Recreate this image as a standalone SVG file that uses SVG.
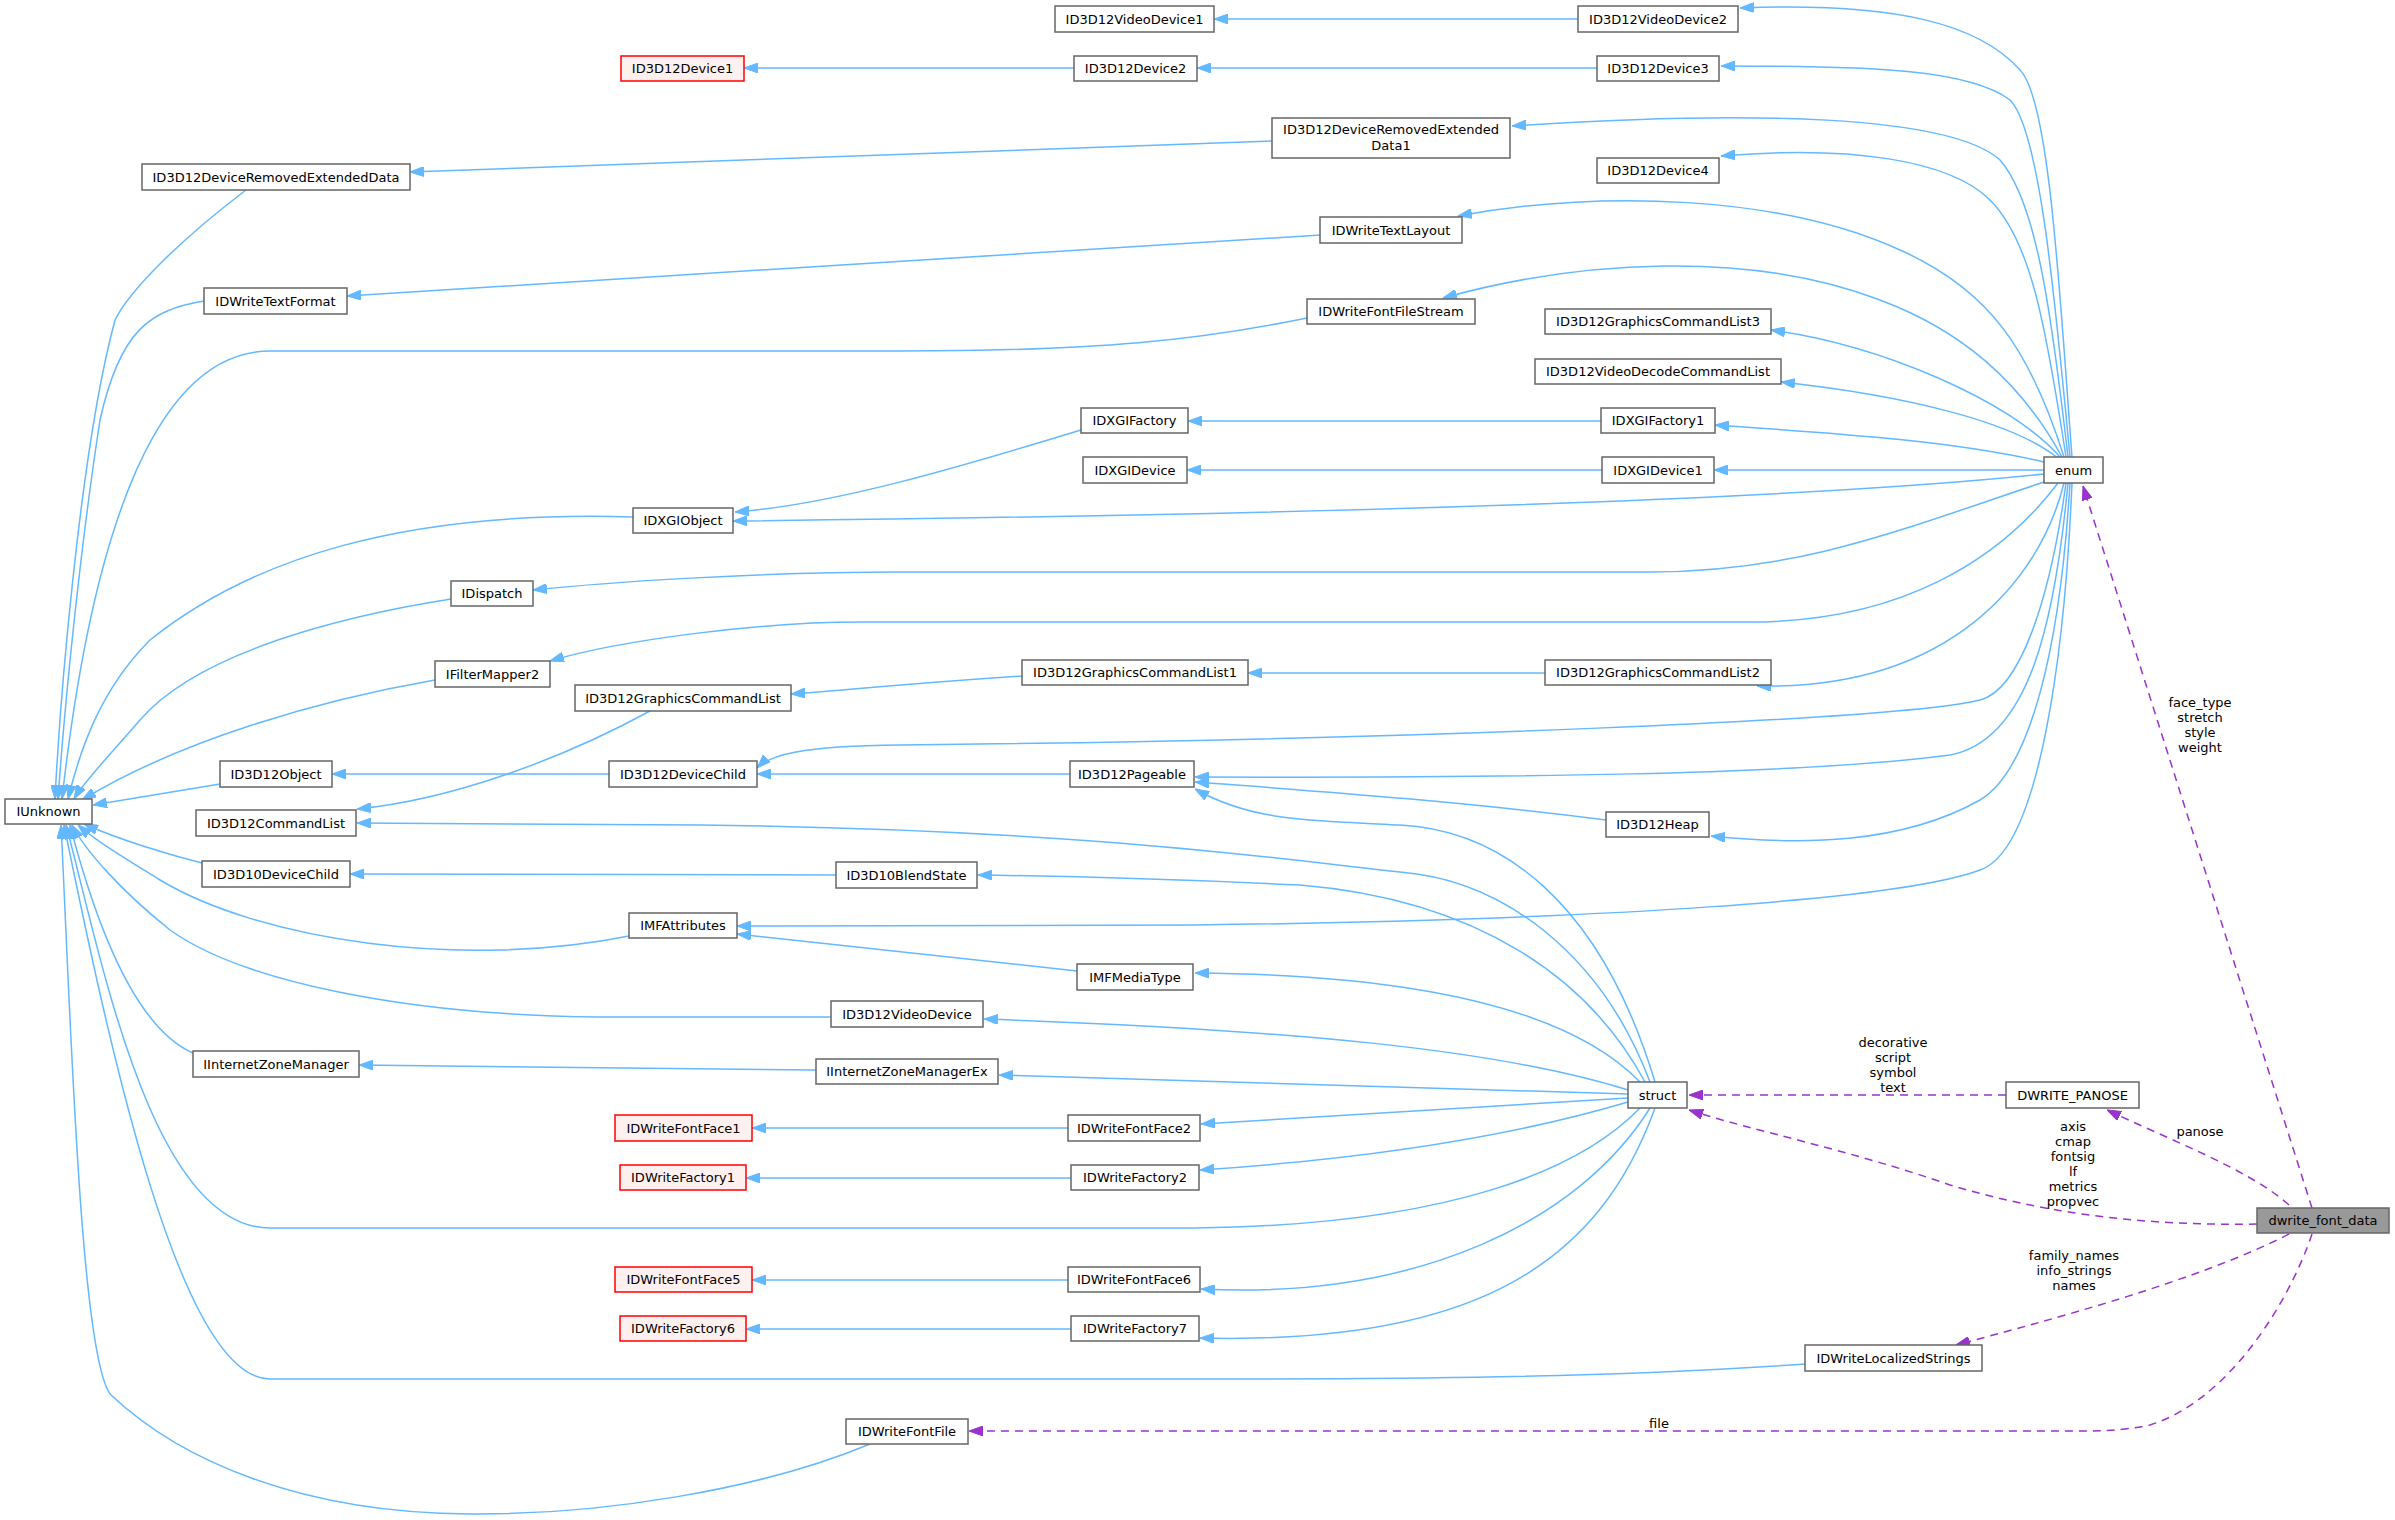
<svg xmlns="http://www.w3.org/2000/svg" width="2395" height="1520" viewBox="0 0 2395 1520">
<style>
.n rect{fill:#fff;stroke:#666;stroke-width:1.5}
.r rect{fill:#fff0f0;stroke:#ff0000;stroke-width:1.5}
.g rect{fill:#999;stroke:#666;stroke-width:1.5}
text{font-family:"DejaVu Sans",sans-serif;font-size:13px;fill:#000;text-anchor:middle}
.e path{fill:none;stroke:#63b8ff;stroke-width:1.5;marker-end:url(#ab)}
.p path{fill:none;stroke:#9a32cd;stroke-width:1.5;stroke-dasharray:8,6;marker-end:url(#ap)}
</style>
<defs>
<marker id="ab" viewBox="0 0 14 10" refX="14" refY="5" markerWidth="14" markerHeight="10" markerUnits="userSpaceOnUse" orient="auto"><path d="M0,0 L14,5 L0,10 Z" fill="#63b8ff" stroke="#63b8ff"/></marker>
<marker id="ap" viewBox="0 0 14 10" refX="14" refY="5" markerWidth="14" markerHeight="10" markerUnits="userSpaceOnUse" orient="auto"><path d="M0,0 L14,5 L0,10 Z" fill="#9a32cd" stroke="#9a32cd"/></marker>
</defs>
<rect width="2395" height="1520" fill="#fff"/>
<g id="connectors">
<g class="e">
<path d="M1578,19 L1214,19"/>
<path d="M1074,68 L744,68"/>
<path d="M1597,68 L1197,68"/>
<path d="M1272,141 L410,172"/>
<path d="M1320,235 L347,296"/>
<path d="M1601,421 L1188,421"/>
<path d="M1602,470 L1187,470"/>
<path d="M1081,430 C950,470 830,505 735,512"/>
<path d="M1022,676 C900,684 850,690 791,694"/>
<path d="M1545,673 L1248,673"/>
<path d="M650,711 C560,760 450,800 357,809"/>
<path d="M609,774 L332,774"/>
<path d="M1070,774 L757,774"/>
<path d="M1606,820 C1450,800 1300,790 1195,782"/>
<path d="M836,875 L350,874"/>
<path d="M1077,971 L737,934"/>
<path d="M816,1070 L359,1065"/>
<path d="M1068,1128 L752,1128"/>
<path d="M1071,1178 L746,1178"/>
<path d="M1068,1280 L752,1280"/>
<path d="M1071,1329 L746,1329"/>
<path d="M2072,457 C2060,300 2050,100 2020,70 C1980,25 1900,2 1740,8"/>
<path d="M2070,457 C2055,300 2040,130 2010,100 C1970,70 1880,66 1721,66"/>
<path d="M2068,457 C2050,300 2035,200 2000,160 C1950,115 1750,110 1512,126"/>
<path d="M2066,457 C2045,320 2030,240 1990,200 C1950,160 1850,145 1721,156"/>
<path d="M2064,457 C2030,350 1990,290 1900,250 C1780,195 1600,190 1458,216"/>
<path d="M2062,457 C2020,380 1960,330 1880,300 C1750,250 1580,260 1443,298"/>
<path d="M2060,457 C2010,400 1880,345 1771,330"/>
<path d="M2058,458 C2010,420 1900,395 1781,382"/>
<path d="M2044,462 C1950,440 1830,433 1715,425"/>
<path d="M2044,470 L1714,470"/>
<path d="M2044,474 C1800,500 1300,515 733,521"/>
<path d="M2044,482 C1900,530 1800,572 1650,572 L900,572 C750,572 600,583 533,590"/>
<path d="M2058,483 C2000,560 1900,622 1750,622 L860,622 C760,622 620,640 550,661"/>
<path d="M2064,483 C2040,580 1950,690 1757,686"/>
<path d="M2066,483 C2050,600 2020,690 1980,700 C1900,720 1400,740 900,745 C800,746 770,755 757,768"/>
<path d="M2068,483 C2055,620 2030,740 1950,755 C1800,775 1500,778 1195,777"/>
<path d="M2070,483 C2060,650 2030,770 1980,800 C1900,845 1800,845 1711,836"/>
<path d="M2072,483 C2065,650 2040,850 1980,870 C1900,900 1600,920 1195,925 L737,926"/>
<path d="M1655,1082 C1600,900 1500,830 1400,825 C1300,820 1250,820 1195,789"/>
<path d="M1650,1082 C1600,950 1500,880 1400,872 C1300,862 1100,830 700,825 L357,823"/>
<path d="M1645,1082 C1590,980 1480,900 1300,885 C1150,878 1050,876 978,875"/>
<path d="M1640,1082 C1580,1020 1450,975 1195,973"/>
<path d="M1628,1090 C1500,1050 1300,1030 984,1019"/>
<path d="M1628,1094 L999,1075"/>
<path d="M1628,1098 L1201,1124"/>
<path d="M1628,1102 C1500,1140 1350,1160 1200,1170"/>
<path d="M1640,1108 C1580,1170 1450,1225 1195,1228 L270,1228 C150,1228 100,950 66,825"/>
<path d="M1650,1108 C1580,1220 1420,1300 1201,1289"/>
<path d="M1655,1108 C1600,1260 1480,1345 1200,1338"/>
<path d="M246,190 C180,240 130,290 115,320 C80,450 60,700 55,799"/>
<path d="M204,301 C150,310 120,330 100,420 C80,550 65,700 58,799"/>
<path d="M1307,318 C1200,340 1100,351 900,351 L270,351 C150,351 90,550 62,799"/>
<path d="M633,517 C400,510 250,560 150,640 C100,690 80,750 68,799"/>
<path d="M451,599 C350,615 200,650 140,720 C110,755 85,780 74,799"/>
<path d="M435,680 C320,700 180,740 82,800"/>
<path d="M220,784 L93,805"/>
<path d="M202,863 C170,855 120,840 84,824"/>
<path d="M629,936 C460,970 260,940 160,880 C120,855 95,840 78,825"/>
<path d="M831,1017 L600,1017 C400,1015 240,980 170,930 C120,890 85,850 72,825"/>
<path d="M193,1053 C140,1030 100,940 70,825"/>
<path d="M1805,1364 C1600,1378 1400,1379 1195,1379 L270,1379 C180,1379 110,1050 64,825"/>
<path d="M870,1444 C760,1490 600,1515 470,1514 C300,1513 180,1460 111,1395 C80,1360 70,1000 61,825"/>
</g>
<g class="p">
<path d="M2312,1208 L2083,486"/>
<path d="M2289,1205 C2250,1170 2170,1140 2107,1110"/>
<path d="M2257,1224 C2150,1226 2050,1215 1950,1185 C1850,1150 1750,1130 1689,1110"/>
<path d="M2006,1095 L1689,1095"/>
<path d="M2289,1234 C2200,1280 2050,1320 1956,1345"/>
<path d="M2312,1234 C2290,1300 2230,1400 2150,1425 C2120,1431 2100,1431 2080,1431 L969,1431"/>
</g>
<g id="labels">
<text x="2200" y="707">face_type</text><text x="2200" y="722">stretch</text><text x="2200" y="737">style</text><text x="2200" y="752">weight</text>
<text x="1893" y="1047">decorative</text><text x="1893" y="1062">script</text><text x="1893" y="1077">symbol</text><text x="1893" y="1092">text</text>
<text x="2073" y="1131">axis</text><text x="2073" y="1146">cmap</text><text x="2073" y="1161">fontsig</text><text x="2073" y="1176">lf</text><text x="2073" y="1191">metrics</text><text x="2073" y="1206">propvec</text>
<text x="2200" y="1136">panose</text>
<text x="2074" y="1260">family_names</text><text x="2074" y="1275">info_strings</text><text x="2074" y="1290">names</text>
<text x="1659" y="1428">file</text>
</g>
</g>
<g id="ID3D12VideoDevice1" class="n"><rect x="1055" y="6" width="159" height="26"/><text x="1134.5" y="24">ID3D12VideoDevice1</text></g>
<g id="ID3D12VideoDevice2" class="n"><rect x="1578" y="6" width="160" height="26"/><text x="1658" y="24">ID3D12VideoDevice2</text></g>
<g id="ID3D12Device1" class="r"><rect x="621" y="56" width="123" height="25"/><text x="682.5" y="73">ID3D12Device1</text></g>
<g id="ID3D12Device2" class="n"><rect x="1074" y="56" width="123" height="25"/><text x="1135.5" y="73">ID3D12Device2</text></g>
<g id="ID3D12Device3" class="n"><rect x="1597" y="56" width="122" height="25"/><text x="1658" y="73">ID3D12Device3</text></g>
<g id="ID3D12DeviceRemovedExtendedData" class="n"><rect x="142" y="164" width="268" height="26"/><text x="276" y="182">ID3D12DeviceRemovedExtendedData</text></g>
<g id="ID3D12DeviceRemovedExtendedData1" class="n"><rect x="1272" y="118" width="238" height="40"/><text x="1391" y="134">ID3D12DeviceRemovedExtended</text><text x="1391" y="150">Data1</text></g>
<g id="ID3D12Device4" class="n"><rect x="1597" y="158" width="122" height="25"/><text x="1658" y="175">ID3D12Device4</text></g>
<g id="IDWriteTextLayout" class="n"><rect x="1320" y="217" width="142" height="26"/><text x="1391" y="235">IDWriteTextLayout</text></g>
<g id="IDWriteTextFormat" class="n"><rect x="204" y="288" width="143" height="26"/><text x="275.5" y="306">IDWriteTextFormat</text></g>
<g id="IDWriteFontFileStream" class="n"><rect x="1307" y="299" width="168" height="25"/><text x="1391" y="316">IDWriteFontFileStream</text></g>
<g id="ID3D12GraphicsCommandList3" class="n"><rect x="1545" y="309" width="226" height="25"/><text x="1658" y="326">ID3D12GraphicsCommandList3</text></g>
<g id="ID3D12VideoDecodeCommandList" class="n"><rect x="1535" y="359" width="246" height="25"/><text x="1658" y="376">ID3D12VideoDecodeCommandList</text></g>
<g id="IDXGIFactory" class="n"><rect x="1081" y="408" width="107" height="25"/><text x="1134.5" y="425">IDXGIFactory</text></g>
<g id="IDXGIFactory1" class="n"><rect x="1601" y="408" width="114" height="25"/><text x="1658" y="425">IDXGIFactory1</text></g>
<g id="IDXGIDevice" class="n"><rect x="1083" y="457" width="104" height="26"/><text x="1135" y="475">IDXGIDevice</text></g>
<g id="IDXGIDevice1" class="n"><rect x="1602" y="457" width="112" height="26"/><text x="1658" y="475">IDXGIDevice1</text></g>
<g id="enum" class="n"><rect x="2044" y="457" width="59" height="26"/><text x="2073.5" y="475">enum</text></g>
<g id="IDXGIObject" class="n"><rect x="633" y="508" width="100" height="25"/><text x="683" y="525">IDXGIObject</text></g>
<g id="IDispatch" class="n"><rect x="451" y="581" width="82" height="25"/><text x="492" y="598">IDispatch</text></g>
<g id="IFilterMapper2" class="n"><rect x="435" y="661" width="115" height="26"/><text x="492.5" y="679">IFilterMapper2</text></g>
<g id="ID3D12GraphicsCommandList" class="n"><rect x="575" y="685" width="216" height="26"/><text x="683" y="703">ID3D12GraphicsCommandList</text></g>
<g id="ID3D12GraphicsCommandList1" class="n"><rect x="1022" y="660" width="226" height="25"/><text x="1135" y="677">ID3D12GraphicsCommandList1</text></g>
<g id="ID3D12GraphicsCommandList2" class="n"><rect x="1545" y="660" width="226" height="25"/><text x="1658" y="677">ID3D12GraphicsCommandList2</text></g>
<g id="ID3D12Object" class="n"><rect x="220" y="761" width="112" height="26"/><text x="276" y="779">ID3D12Object</text></g>
<g id="ID3D12DeviceChild" class="n"><rect x="609" y="761" width="148" height="26"/><text x="683" y="779">ID3D12DeviceChild</text></g>
<g id="ID3D12Pageable" class="n"><rect x="1070" y="761" width="124" height="26"/><text x="1132" y="779">ID3D12Pageable</text></g>
<g id="IUnknown" class="n"><rect x="5" y="799" width="87" height="25"/><text x="48.5" y="816">IUnknown</text></g>
<g id="ID3D12CommandList" class="n"><rect x="196" y="810" width="160" height="26"/><text x="276" y="828">ID3D12CommandList</text></g>
<g id="ID3D12Heap" class="n"><rect x="1606" y="812" width="103" height="25"/><text x="1657.5" y="829">ID3D12Heap</text></g>
<g id="ID3D10DeviceChild" class="n"><rect x="202" y="861" width="148" height="26"/><text x="276" y="879">ID3D10DeviceChild</text></g>
<g id="ID3D10BlendState" class="n"><rect x="836" y="862" width="141" height="26"/><text x="906.5" y="880">ID3D10BlendState</text></g>
<g id="IMFAttributes" class="n"><rect x="629" y="913" width="108" height="25"/><text x="683" y="930">IMFAttributes</text></g>
<g id="IMFMediaType" class="n"><rect x="1077" y="964" width="116" height="26"/><text x="1135" y="982">IMFMediaType</text></g>
<g id="ID3D12VideoDevice" class="n"><rect x="831" y="1001" width="152" height="26"/><text x="907" y="1019">ID3D12VideoDevice</text></g>
<g id="IInternetZoneManager" class="n"><rect x="193" y="1051" width="166" height="26"/><text x="276" y="1069">IInternetZoneManager</text></g>
<g id="IInternetZoneManagerEx" class="n"><rect x="816" y="1059" width="182" height="25"/><text x="907" y="1076">IInternetZoneManagerEx</text></g>
<g id="struct" class="n"><rect x="1628" y="1082" width="59" height="26"/><text x="1657.5" y="1100">struct</text></g>
<g id="DWRITE_PANOSE" class="n"><rect x="2006" y="1082" width="133" height="26"/><text x="2072.5" y="1100">DWRITE_PANOSE</text></g>
<g id="IDWriteFontFace1" class="r"><rect x="615" y="1115" width="137" height="26"/><text x="683.5" y="1133">IDWriteFontFace1</text></g>
<g id="IDWriteFontFace2" class="n"><rect x="1068" y="1115" width="132" height="26"/><text x="1134" y="1133">IDWriteFontFace2</text></g>
<g id="IDWriteFactory1" class="r"><rect x="620" y="1165" width="126" height="25"/><text x="683" y="1182">IDWriteFactory1</text></g>
<g id="IDWriteFactory2" class="n"><rect x="1071" y="1165" width="128" height="25"/><text x="1135" y="1182">IDWriteFactory2</text></g>
<g id="dwrite_font_data" class="g"><rect x="2257" y="1208" width="132" height="25"/><text x="2323" y="1225">dwrite_font_data</text></g>
<g id="IDWriteFontFace5" class="r"><rect x="615" y="1267" width="137" height="25"/><text x="683.5" y="1284">IDWriteFontFace5</text></g>
<g id="IDWriteFontFace6" class="n"><rect x="1068" y="1267" width="132" height="25"/><text x="1134" y="1284">IDWriteFontFace6</text></g>
<g id="IDWriteFactory6" class="r"><rect x="620" y="1316" width="126" height="25"/><text x="683" y="1333">IDWriteFactory6</text></g>
<g id="IDWriteFactory7" class="n"><rect x="1071" y="1316" width="128" height="25"/><text x="1135" y="1333">IDWriteFactory7</text></g>
<g id="IDWriteLocalizedStrings" class="n"><rect x="1805" y="1345" width="177" height="26"/><text x="1893.5" y="1363">IDWriteLocalizedStrings</text></g>
<g id="IDWriteFontFile" class="n"><rect x="846" y="1419" width="122" height="25"/><text x="907" y="1436">IDWriteFontFile</text></g>
</svg>
